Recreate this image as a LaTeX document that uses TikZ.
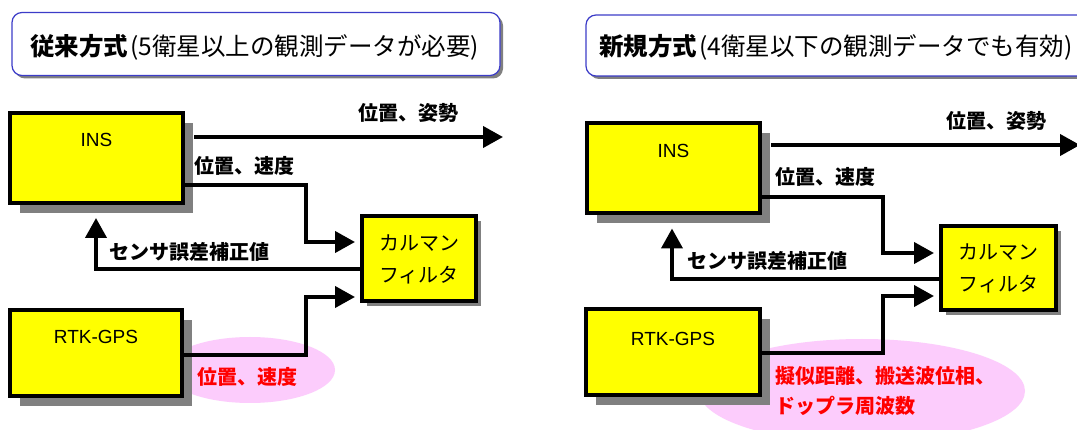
\documentclass[tikz,border=0pt]{standalone}
\usepackage{fontspec}
\setmainfont{Liberation Sans}
\newfontfamily\jp{Noto Sans CJK JP}
\usetikzlibrary{arrows.meta,shadows}
\definecolor{ybox}{RGB}{255,255,0}
\definecolor{sgray}{RGB}{128,128,128}
\definecolor{pinkfill}{RGB}{252,204,252}
\definecolor{tblue}{RGB}{60,60,200}
\definecolor{tred}{RGB}{255,0,0}
\begin{document}
\begin{tikzpicture}[x=1pt,y=-1pt,
  ybase/.style={draw=black, fill=ybox, line width=4pt, inner sep=0pt, rectangle},
  bigbox/.style={ybase, drop shadow={shadow xshift=10pt, shadow yshift=-10pt, fill=sgray, opacity=1}},
  kbox/.style={ybase, drop shadow={shadow xshift=5pt, shadow yshift=-5pt, fill=sgray, opacity=1},
    align=center, font=\jp\fontsize{20}{32}\selectfont},
  conn/.style={line width=4pt},
  arr/.style={conn, -{Triangle[length=20pt,width=21pt]}},
  lbl/.style={font=\jp\bfseries\fontsize{20}{20}\selectfont, inner sep=0pt},
  redlbl/.style={font=\jp\bfseries\fontsize{20}{30}\selectfont, text=tred, inner sep=0pt, align=left},
  boxtxt/.style={font=\fontsize{19}{19}\selectfont, inner sep=0pt},
  titlebox/.style={draw=tblue, line width=1.2pt, fill=white, rounded corners=10pt, inner sep=0pt,
    drop shadow={shadow xshift=3pt, shadow yshift=-3pt, fill=sgray, opacity=1}},
  titletxt/.style={font=\jp\fontsize{24.5}{24.5}\selectfont, inner sep=0pt, anchor=west}
]
\clip (0,0) rectangle (1077,430);
\fill[white] (0,0) rectangle (1077,430);

% ---------- left panel ----------
\node[titlebox, minimum width=488pt, minimum height=63pt] (t1) at (256,44) {};
\node[titletxt] (t1txt) at (30,47) {\textbf{従来方式}\kern2pt(5衛星以上の観測データが必要)};

\fill[pinkfill] (250,370) ellipse [x radius=85, y radius=33];

\node[bigbox, minimum width=173pt, minimum height=90pt] (ins1) at (96.5,158) {};
\node[boxtxt] (ins1txt) at (96.5,140) {INS};
\node[kbox, minimum width=114pt, minimum height=85pt] (k1) at (419,259) {カルマン\\フィルタ};
\node[bigbox, minimum width=172pt, minimum height=86pt] (rtk1) at (96,353) {};
\node[boxtxt] (rtk1txt) at (96,337) {RTK-GPS};

\coordinate (o1) at (503,137);
\draw[arr, shorten <=9pt] (ins1.east |- o1) -- (o1);
\node[lbl] (lo1) at (408,113) {位置、姿勢};

\draw[arr, shorten >=5pt] (ins1.east |- 0,185) -- (306,185) -- (306,242) -- (k1.west |- 0,242);
\node[lbl] (lv1) at (244,166) {位置、速度};

\draw[arr, shorten >=13pt] (k1.west |- 0,269) -- (96,269) -- (ins1.south -| 96,0);
\node[lbl] (ls1) at (189,252) {センサ誤差補正値};

\draw[arr, shorten >=5pt] (rtk1.east |- 0,355) -- (306,355) -- (306,297) -- (k1.west |- 0,297);
\node[redlbl] (lr1) at (247,377) {位置、速度};

% ---------- right panel ----------
\node[titlebox, minimum width=520pt, minimum height=61pt] (t2) at (846,45.5) {};
\node[titletxt] (t2txt) at (599,47) {\textbf{新規方式}\kern2pt(4衛星以下の観測データでも有効)};

\fill[pinkfill] (862,391) ellipse [x radius=163, y radius=52];

\node[bigbox, minimum width=173pt, minimum height=90pt] (ins2) at (673.5,168.5) {};
\node[boxtxt] (ins2txt) at (673.5,151) {INS};
\node[kbox, minimum width=115pt, minimum height=84pt] (k2) at (998.5,268) {カルマン\\フィルタ};
\node[bigbox, minimum width=174pt, minimum height=86pt] (rtk2) at (673,352.5) {};
\node[boxtxt] (rtk2txt) at (673,339) {RTK-GPS};

\coordinate (o2) at (1080,145);
\draw[arr, shorten <=9pt] (ins2.east |- o2) -- (o2);
\node[lbl] (lo2) at (996,121) {位置、姿勢};

\draw[arr, shorten >=5pt] (ins2.east |- 0,197) -- (883,197) -- (883,253) -- (k2.west |- 0,253);
\node[lbl] (lv2) at (825,177) {位置、速度};

\draw[arr, shorten >=13pt] (k2.west |- 0,279) -- (672,279) -- (ins2.south -| 672,0);
\node[lbl] (ls2) at (767,261) {センサ誤差補正値};

\draw[arr, shorten >=5pt] (rtk2.east |- 0,353) -- (883,353) -- (883,296) -- (k2.west |- 0,296);
\node[redlbl, anchor=north west] (lr2) at (775,366) {擬似距離、搬送波位相、\\ドップラ周波数};
\end{tikzpicture}
\end{document}
